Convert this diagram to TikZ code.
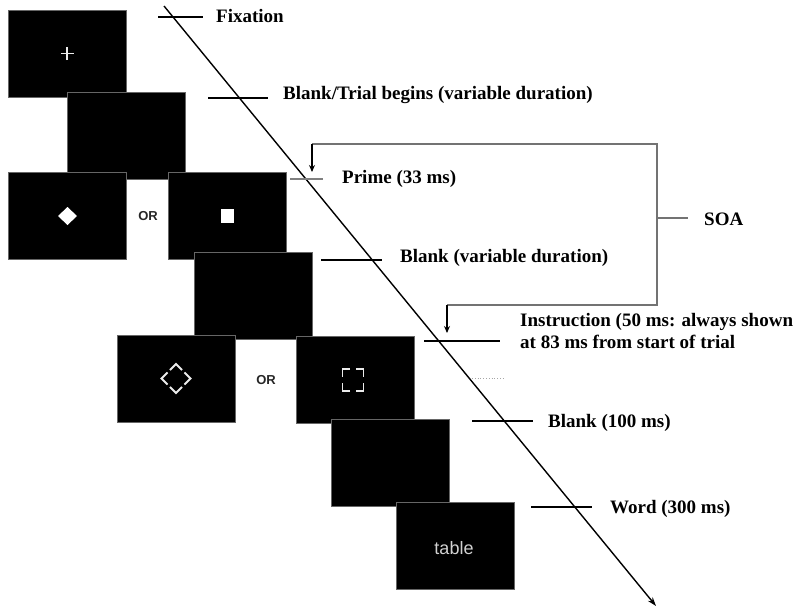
\documentclass[tikz,border=0pt]{standalone}
\usepackage{fontspec}
\setmainfont{Liberation Serif}
\newfontfamily\labelsans{Liberation Sans}
\usetikzlibrary{arrows.meta,calc}
\begin{document}
\begin{tikzpicture}[x=1pt,y=-1pt,
  screen/.style={draw=black!60,line width=0.9pt,fill=black,minimum width=118pt,minimum height=87pt,inner sep=0pt},
  tick/.style={line width=2.4pt},
  lbl/.style={anchor=base west,inner sep=0pt,font=\fontsize{19}{22}\selectfont\bfseries},
  orlbl/.style={inner sep=0pt,font=\labelsans\fontsize{13}{15}\selectfont\bfseries,text=black!85},
  cue/.style={draw=white!92!black,line width=1.8pt},
  bracket/.style={draw=black!55,line width=1.4pt},
  drop/.style={line width=1.4pt,-{Stealth[length=7pt,width=6pt]}},
]
\useasboundingbox (0,0) rectangle (795,611);

% stimulus screens, back to front
\node[screen] (s1) at (67,53.5) {};
\node[screen] (s2) at (126,136) {};
\node[screen] (s3) at (67.5,216) {};
\node[screen] (s4) at (227,216) {};
\node[screen] (s5) at (253,296) {};
\node[screen] (s6) at (176,378.5) {};
\node[screen] (s7) at (355,379.5) {};
\node[screen] (s8) at (390,463) {};
\node[screen] (s9) at (455,546) {};

% fixation cross
\draw[cue,line width=1.3pt] ([xshift=-6.5pt]s1.center) -- ([xshift=6.5pt]s1.center);
\draw[cue,line width=1.3pt] ([yshift=-6.5pt]s1.center) -- ([yshift=6.5pt]s1.center);

% primes
\fill[white] ([xshift=-9.5pt]s3.center) -- ([yshift=-9pt]s3.center) -- ([xshift=9.5pt]s3.center) -- ([yshift=9pt]s3.center) -- cycle;
\fill[white] ([shift={(-6.5pt,-7pt)}]s4.center) rectangle ([shift={(6.5pt,7pt)}]s4.center);
\node[orlbl] (or1) at (148,216) {OR};

% instruction cues: corners of a diamond and of a square
\begin{scope}[shift={(s6.center)}]
  \foreach \a in {0,90,180,270}{
    \draw[cue] ($(\a:14.5)!0.42!(\a+90:14.5)$) -- (\a:14.5) -- ($(\a:14.5)!0.42!(\a-90:14.5)$);
  }
\end{scope}
\begin{scope}[shift={(353,380)}]
  \draw[cue] (-10.5,-3) -- (-10.5,-11) -- (-3,-11);
  \draw[cue] (3,-11) -- (10.5,-11) -- (10.5,-3);
  \draw[cue] (10.5,3) -- (10.5,11) -- (3,11);
  \draw[cue] (-3,11) -- (-10.5,11) -- (-10.5,3);
\end{scope}
\node[orlbl] (or2) at (266,380) {OR};

% target word
\node[inner sep=0pt,text=black!18,font=\labelsans\fontsize{18}{20}\selectfont] (word) at (454,548) {table};

% time axis
\coordinate (t0) at (164,6);
\coordinate (t1) at (656,606);
\draw[line width=1.4pt,-{Stealth[length=9pt,width=6pt]}] (t0) -- (t1);

% event ticks
\coordinate (f1) at (158,17);  \coordinate (f2) at (203,17);
\coordinate (b1) at (208,98);  \coordinate (b2) at (268,98);
\coordinate (p1) at (290,179); \coordinate (p2) at (323,179);
\coordinate (v1) at (321,260); \coordinate (v2) at (382,260);
\coordinate (i1) at (424,341); \coordinate (i2) at (500,341);
\coordinate (c1) at (472,421); \coordinate (c2) at (533,421);
\coordinate (w1) at (531,507); \coordinate (w2) at (592,507);
\draw[tick] (f1) -- (f2);
\draw[tick] (b1) -- (b2);
\draw[tick,black!50,line width=1.6pt] (p1) -- (p2);
\draw[tick] (v1) -- (v2);
\draw[tick] (i1) -- (i2);
\draw[tick] (c1) -- (c2);
\draw[tick] (w1) -- (w2);
\coordinate (d1) at (472,378); \coordinate (d2) at (505,378);
\draw[black!35,line width=0.8pt,dotted] (d1) -- (d2);

% event labels
\node[lbl] (lfix) at (216,22) {Fixation};
\node[lbl] (lbeg) at (283,99) {Blank/Trial begins (variable duration)};
\node[lbl] (lprime) at (342,183) {Prime (33 ms)};
\node[lbl] (lvar) at (400,262) {Blank (variable duration)};
\node[lbl,align=left] (linst) at (520,348) {Instruction (50 ms: always shown\\at 83 ms from start of trial};
\node[lbl] (lblank) at (548,427) {Blank (100 ms)};
\node[lbl] (lword) at (610,513) {Word (300 ms)};

% SOA bracket
\coordinate (a1) at (312,144);
\coordinate (a2) at (657,144);
\coordinate (a3) at (657,305);
\coordinate (a4) at (447,305);
\coordinate (am) at (657,218);
\coordinate (ae) at (688,218);
\coordinate (ta) at (312,172);
\coordinate (tb) at (447,333);
\draw[bracket] (a1) -- (a2) -- (a3) -- (a4);
\draw[bracket] (am) -- (ae);
\draw[drop] (a1) -- (ta);
\draw[drop] (a4) -- (tb);
\node[lbl] (lsoa) at (704,225) {SOA};
\end{tikzpicture}
\end{document}
